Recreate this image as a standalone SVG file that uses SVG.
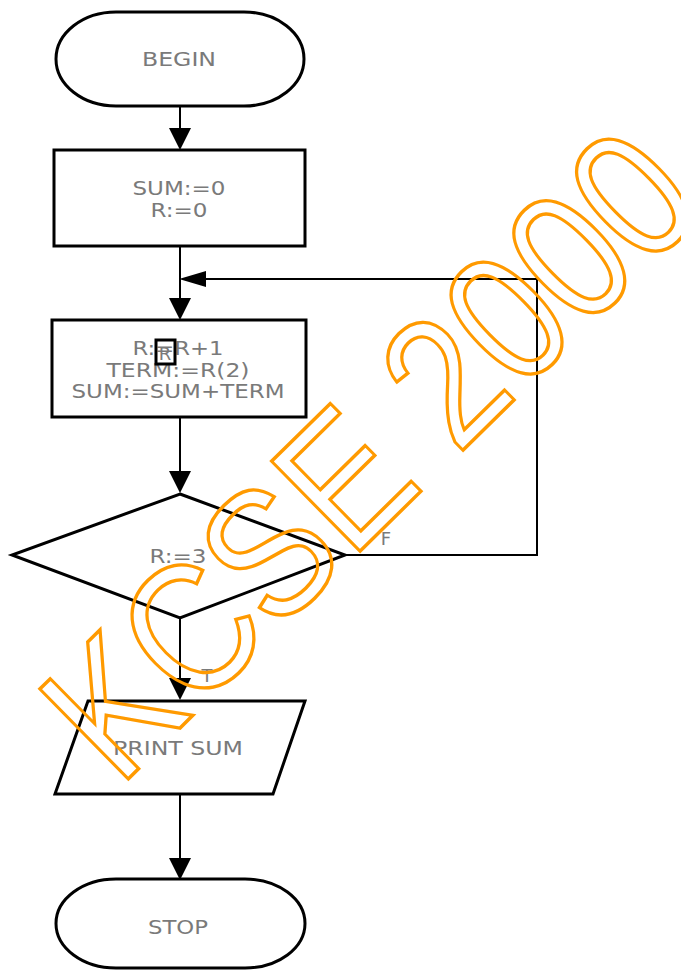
<svg xmlns="http://www.w3.org/2000/svg" width="681" height="971" viewBox="0 0 681 971">
<style>
.shape{fill:#fff;stroke:#000;stroke-width:3}
.lbl{font-family:"DejaVu Sans",Verdana,sans-serif;font-size:20px;fill:#7a7a7a;text-anchor:middle}
.sm{font-family:"DejaVu Sans",Verdana,sans-serif;font-size:18px;fill:#7a7a7a;text-anchor:middle}
.conn{stroke:#000;stroke-width:2;fill:none}
.head{fill:#000}
.wm{font-family:"Liberation Sans",Arial,sans-serif;font-size:158px;fill:none;stroke:#ff9a00;stroke-width:3}
</style>
<rect width="681" height="971" fill="#fff"/>
<g id="connectors">
<line class="conn" x1="180" y1="106" x2="180" y2="130"/>
<polygon class="head" points="169,128 191,128 180,150"/>
<line class="conn" x1="180" y1="247" x2="180" y2="300"/>
<polygon class="head" points="169,298 191,298 180,320"/>
<polyline class="conn" points="345,555 537,555 537,279 203,279"/>
<polygon class="head" points="206,271 206,287 179,279"/>
<line class="conn" x1="180" y1="418" x2="180" y2="473"/>
<polygon class="head" points="169,471 191,471 180,493"/>
<line class="conn" x1="180" y1="619" x2="180" y2="680"/>
<polygon class="head" points="169,678 191,678 180,700"/>
<line class="conn" x1="180" y1="795" x2="180" y2="860"/>
<polygon class="head" points="169,858 191,858 180,880"/>
<text class="sm" x="386" y="545">F</text>
<text class="sm" x="207" y="682">T</text>
</g>
<g id="begin">
<rect class="shape" x="56" y="12" width="248" height="94" rx="60" ry="47"/>
<text class="lbl" x="179" y="66" textLength="74" lengthAdjust="spacingAndGlyphs">BEGIN</text>
</g>
<g id="init">
<rect class="shape" x="54" y="150" width="251" height="96"/>
<text class="lbl" x="179" y="195" textLength="93" lengthAdjust="spacingAndGlyphs">SUM:=0</text>
<text class="lbl" x="179" y="217" textLength="57" lengthAdjust="spacingAndGlyphs">R:=0</text>
</g>
<g id="loopbody">
<rect class="shape" x="52" y="320" width="254" height="97"/>
<text class="lbl" x="178" y="355" textLength="91" lengthAdjust="spacingAndGlyphs">R:=R+1</text>
<text class="lbl" x="178" y="377" textLength="143" lengthAdjust="spacingAndGlyphs">TERM:=R(2)</text>
<text class="lbl" x="178" y="398" textLength="213" lengthAdjust="spacingAndGlyphs">SUM:=SUM+TERM</text>
<rect x="156" y="340" width="19" height="24" fill="none" stroke="#000" stroke-width="3"/>
<text class="sm" x="165" y="360">R</text>
</g>
<g id="decision">
<polygon class="shape" points="180,494 345,555 180,618 12,555"/>
<text class="lbl" x="178" y="563" textLength="57" lengthAdjust="spacingAndGlyphs">R:=3</text>
</g>
<g id="print">
<polygon class="shape" points="88,701 305,701 273,794 55,794"/>
<text class="lbl" x="178" y="755" textLength="130" lengthAdjust="spacingAndGlyphs">PRINT SUM</text>
</g>
<g id="stop">
<rect class="shape" x="56" y="879" width="249" height="89" rx="60" ry="44.5"/>
<text class="lbl" x="178" y="934" textLength="60" lengthAdjust="spacingAndGlyphs">STOP</text>
</g>
<g id="watermark">
<text class="wm" transform="translate(119,788) rotate(-44.5) scale(1,1.16)">KCSE 2000</text>
</g>
</svg>
